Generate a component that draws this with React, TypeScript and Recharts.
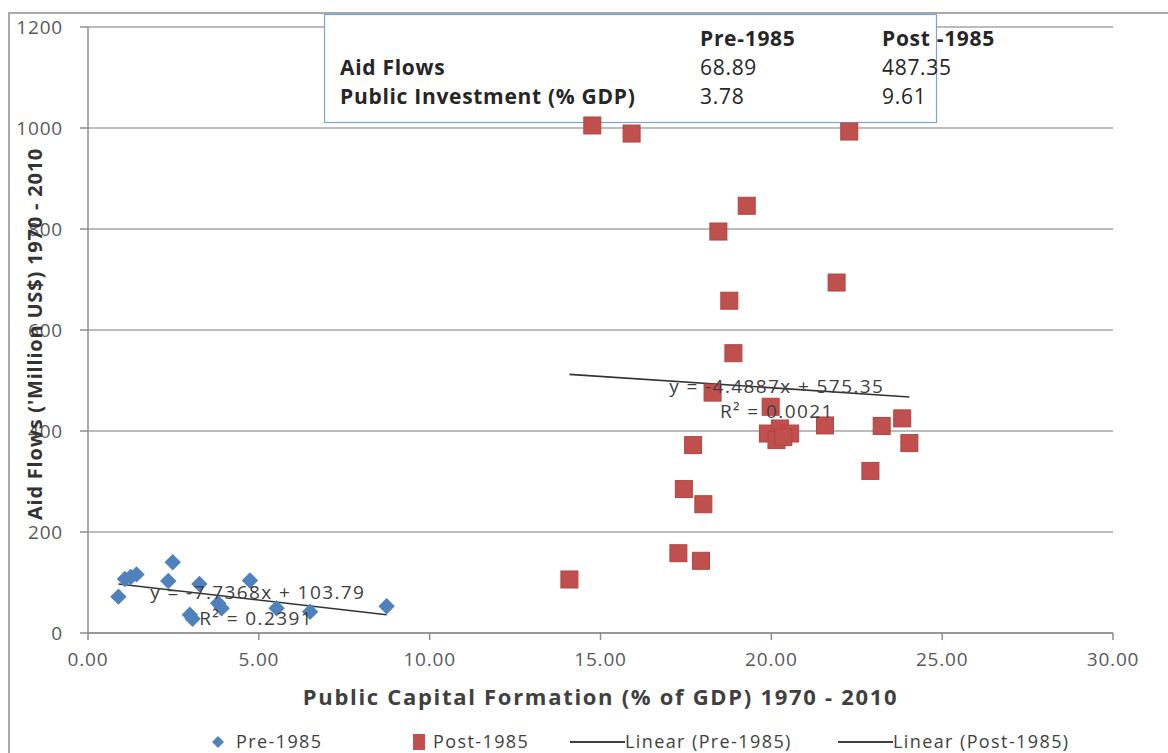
import React from "react";
import {
  ScatterChart,
  Scatter,
  XAxis,
  YAxis,
  CartesianGrid,
  ReferenceLine,
  ReferenceDot,
  Customized,
} from "recharts";

// Pre-1985 observations (public capital formation %, aid flows)
const preX = [0.89, 1.08, 1.25, 1.42, 2.35, 2.48, 3.26, 2.98, 3.06, 3.81, 3.91, 4.74, 5.52, 6.5, 8.74];
const preY = [72, 107, 111, 116, 103, 140, 97, 36, 28, 59, 49, 104, 49, 42, 53];

// Post-1985 observations
const postX = [
  14.76, 15.91, 22.28, 19.28, 18.45, 21.91, 18.77, 18.89, 18.28, 19.98, 17.71, 21.57, 23.23,
  23.83, 24.04, 22.9, 19.9, 20.25, 20.15, 20.55, 20.35, 17.44, 18.01, 17.28, 17.94, 14.09,
];
const postY = [
  1005, 989, 993, 846, 795, 694, 658, 554, 476, 448, 372, 411, 410, 425, 376, 321, 395, 405,
  382, 395, 388, 285, 255, 158, 143, 106,
];

// linear trend lines as printed on the chart
const preFit = { slope: -7.7368, intercept: 103.79, from: 0.89, to: 8.74 };
const postFit = { slope: -4.4887, intercept: 575.35, from: 14.09, to: 24.04 };

const xTicks = [0, 5, 10, 15, 20, 25, 30];
const yTicks = [0, 200, 400, 600, 800, 1000, 1200];

const tableHeader = ["", "Pre-1985", "Post -1985"];
const tableRows = [
  ["Aid  Flows", "68.89", "487.35"],
  ["Public Investment (% GDP)", "3.78", "9.61"],
];

const preData = preX.map((x, i) => ({ x, y: preY[i] }));
const postData = postX.map((x, i) => ({ x, y: postY[i] }));

const fitSegment = (f: typeof preFit) => [
  { x: f.from, y: f.slope * f.from + f.intercept },
  { x: f.to, y: f.slope * f.to + f.intercept },
];

const BLUE = "#4f81bd";
const RED = "#c0504d";
const FONT = "'Open Sans', sans-serif";

const Diamond = (props: any) => {
  const { cx, cy } = props;
  const r = 8.2;
  return (
    <polygon
      points={`${cx},${cy - r} ${cx + r},${cy} ${cx},${cy + r} ${cx - r},${cy}`}
      fill={BLUE}
    />
  );
};

const Square = (props: any) => {
  const { cx, cy } = props;
  const s = 17;
  return <rect x={cx - s / 2} y={cy - s / 2} width={s} height={s} fill={RED} stroke="#b34441" strokeWidth={1} />;
};

// the summary text box in the top of the chart
const InsetTable = () => {
  const colX = [340, 700, 882];
  const rowY = [46, 75, 104];
  return (
    <g style={{ fontFamily: FONT, fontSize: 21, letterSpacing: 0.7 }}>
      <rect x={324.5} y={14.5} width={612} height={108} fill="#fff" stroke="#7aa3d6" strokeWidth={1.2} />
      {tableHeader.map((t, i) => (
        <text key={"h" + i} x={colX[i]} y={rowY[0]} fill="#262626" fontWeight="bold">
          {t}
        </text>
      ))}
      {tableRows.map((row, r) =>
        row.map((t, i) => (
          <text
            key={r + "-" + i}
            x={colX[i]}
            y={rowY[r + 1]}
            fill="#262626"
            fontWeight={i === 0 ? "bold" : "normal"}
          >
            {t}
          </text>
        )),
      )}
    </g>
  );
};

const legendText: React.CSSProperties = {
  position: "absolute",
  top: 732,
  fontFamily: FONT,
  fontSize: 18,
  lineHeight: "18px",
  letterSpacing: 1.4,
  color: "#404040",
  whiteSpace: "nowrap",
};

const fitLabel = { position: "center" as const, fill: "#404040", fontSize: 19, fontFamily: FONT, letterSpacing: 1.4 };

export default function App() {
  return (
    <div style={{ position: "relative", width: 1168, height: 753, overflow: "hidden", background: "#fff" }}>
      <style>{"body{margin:0;overflow:hidden}"}</style>
      <div
        style={{
          position: "absolute",
          left: 8,
          top: 12,
          right: 0,
          bottom: 0,
          borderTop: "2px solid #a9a9a9",
          borderLeft: "2px solid #a9a9a9",
        }}
      />
      <div style={{ position: "absolute", left: 0, top: 0 }}>
        <ScatterChart width={1168} height={753} margin={{ top: 27, right: 55, bottom: 20, left: 0 }}>
          <CartesianGrid horizontal vertical={false} stroke="#a6a6a6" strokeWidth={1.5} />
          <XAxis
            type="number"
            dataKey="x"
            domain={[0, 30]}
            ticks={xTicks}
            tickFormatter={(v: number) => v.toFixed(2)}
            height={100}
            stroke="#8c8c8c"
            strokeWidth={1.5}
            tickSize={7}
            tickMargin={13}
            tick={{ fill: "#595959", fontSize: 19, fontFamily: FONT, letterSpacing: 0.8 }}
            label={{
              value: "Public Capital Formation (% of GDP) 1970 - 2010",
              position: "center",
              dy: 14,
              fill: "#404040",
              fontSize: 22,
              fontWeight: "bold",
              fontFamily: FONT,
              letterSpacing: 1.7,
            }}
          />
          <YAxis
            type="number"
            dataKey="y"
            domain={[0, 1200]}
            ticks={yTicks}
            width={88}
            stroke="#8c8c8c"
            strokeWidth={1.5}
            tickSize={8}
            tickMargin={17}
            tick={{ fill: "#595959", fontSize: 19, fontFamily: FONT, letterSpacing: 0.8 }}
            label={{
              value: "Aid Flows ('Million US$) 1970 - 2010",
              angle: -90,
              position: "center",
              dx: -9,
              dy: 4,
              fill: "#333",
              fontSize: 20,
              fontWeight: "bold",
              fontFamily: FONT,
              letterSpacing: 0.8,
            }}
          />
          <Customized component={<InsetTable />} />
          <Scatter name="Pre-1985" data={preData} shape={<Diamond />} isAnimationActive={false} />
          <Scatter name="Post-1985" data={postData} shape={<Square />} isAnimationActive={false} />
          <ReferenceLine segment={fitSegment(preFit)} stroke="#333" strokeWidth={1.6} ifOverflow="visible" />
          <ReferenceLine segment={fitSegment(postFit)} stroke="#333" strokeWidth={1.6} ifOverflow="visible" />
          <ReferenceDot x={4.97} y={81} r={0} fill="none" stroke="none" label={{ ...fitLabel, value: "y = -7.7368x + 103.79" }} />
          <ReferenceDot x={4.92} y={30} r={0} fill="none" stroke="none" label={{ ...fitLabel, value: "R² = 0.2391" }} />
          <ReferenceDot x={20.16} y={489} r={0} fill="none" stroke="none" label={{ ...fitLabel, value: "y = -4.4887x + 575.35" }} />
          <ReferenceDot x={20.16} y={440} r={0} fill="none" stroke="none" label={{ ...fitLabel, value: "R² = 0.0021" }} />
        </ScatterChart>
      </div>
      {/* legend */}
      <svg style={{ position: "absolute", left: 211, top: 735 }} width={14} height={14}>
        <polygon points="7,1 13,7 7,13 1,7" fill={BLUE} />
      </svg>
      <span style={{ ...legendText, left: 236 }}>Pre-1985</span>
      <div style={{ position: "absolute", left: 413, top: 734, width: 12, height: 16, background: RED }} />
      <span style={{ ...legendText, left: 433 }}>Post-1985</span>
      <div style={{ position: "absolute", left: 570, top: 741, width: 55, height: 2, background: "#404040" }} />
      <span style={{ ...legendText, left: 625 }}>Linear (Pre-1985)</span>
      <div style={{ position: "absolute", left: 838, top: 741, width: 55, height: 2, background: "#404040" }} />
      <span style={{ ...legendText, left: 893 }}>Linear (Post-1985)</span>
    </div>
  );
}
